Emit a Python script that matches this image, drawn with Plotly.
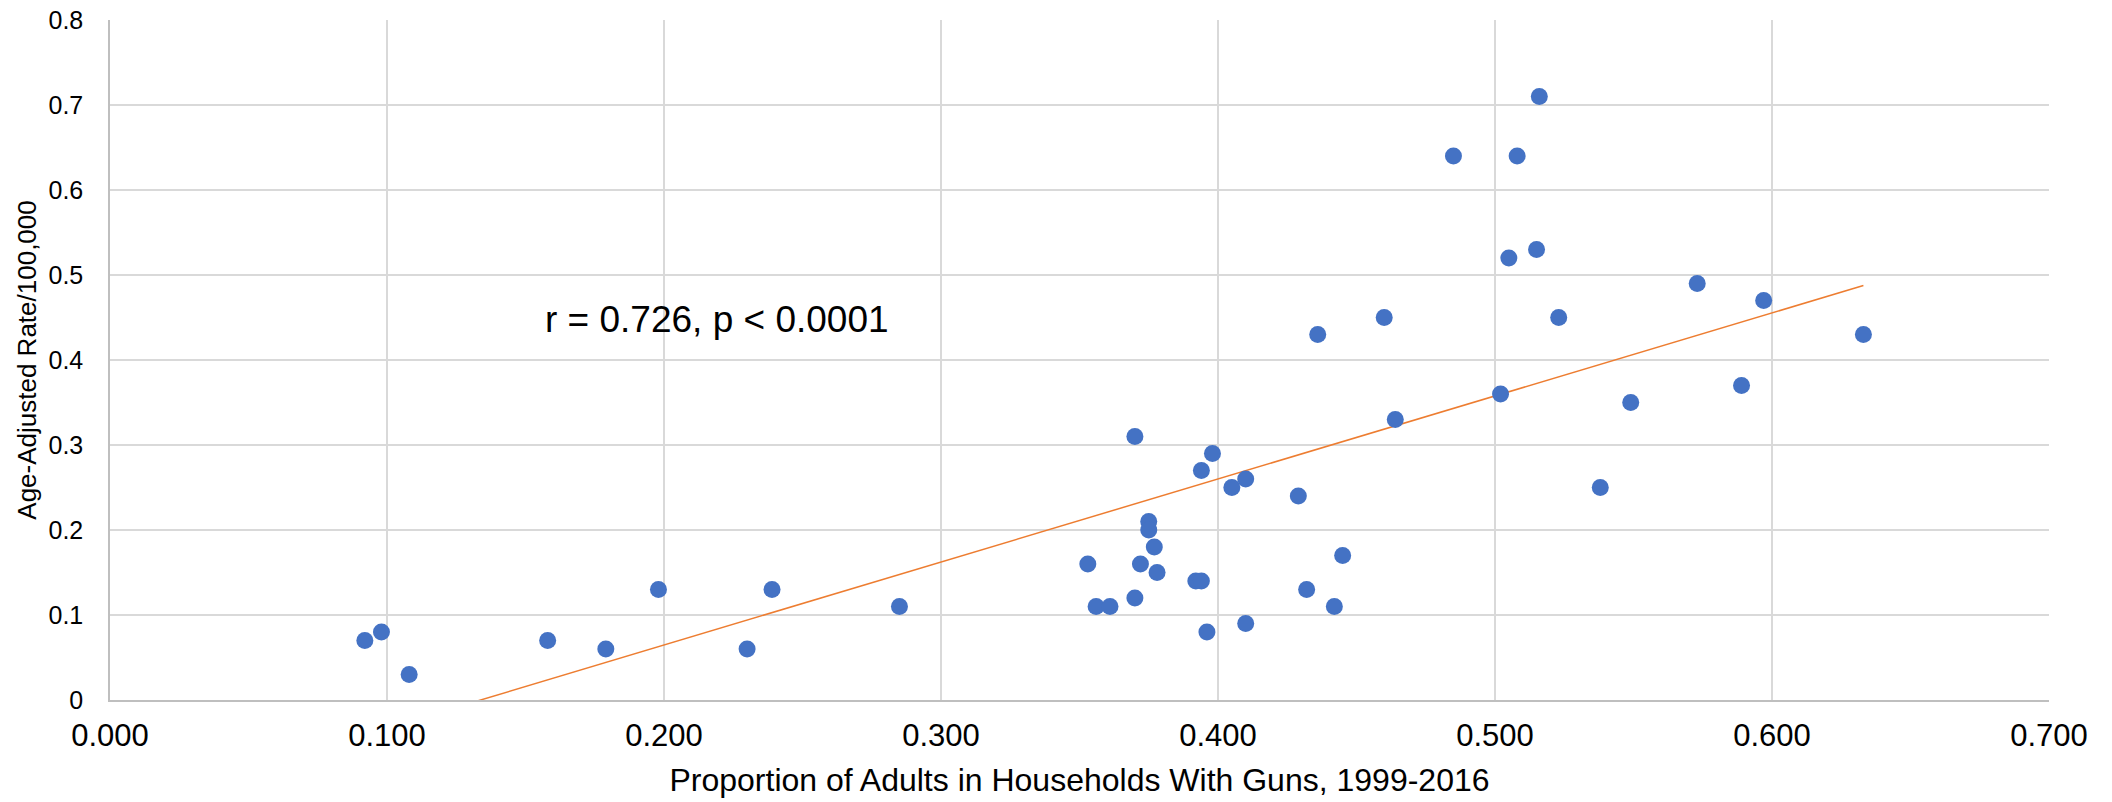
import numpy as np
import plotly.graph_objects as go

# Proportion of adults in households with guns (x) and age-adjusted rate (y)
gun_prop = [0.092, 0.098, 0.108, 0.158, 0.179, 0.198, 0.230, 0.239, 0.285,
            0.353, 0.356, 0.361, 0.370, 0.370, 0.372, 0.375, 0.375, 0.377,
            0.378, 0.392, 0.394, 0.394, 0.396, 0.398, 0.405, 0.410, 0.410,
            0.429, 0.432, 0.436, 0.442, 0.445, 0.460, 0.464, 0.485, 0.502,
            0.505, 0.508, 0.515, 0.516, 0.523, 0.538, 0.549, 0.573, 0.589,
            0.597, 0.633]
rate = [0.07, 0.08, 0.03, 0.07, 0.06, 0.13, 0.06, 0.13, 0.11,
        0.16, 0.11, 0.11, 0.31, 0.12, 0.16, 0.21, 0.20, 0.18,
        0.15, 0.14, 0.14, 0.27, 0.08, 0.29, 0.25, 0.26, 0.09,
        0.24, 0.13, 0.43, 0.11, 0.17, 0.45, 0.33, 0.64, 0.36,
        0.52, 0.64, 0.53, 0.71, 0.45, 0.25, 0.35, 0.49, 0.37,
        0.47, 0.43]

x_ticks = [0.0, 0.1, 0.2, 0.3, 0.4, 0.5, 0.6, 0.7]
y_ticks = [0.0, 0.1, 0.2, 0.3, 0.4, 0.5, 0.6, 0.7, 0.8]
y_tick_labels = ["0", "0.1", "0.2", "0.3", "0.4", "0.5", "0.6", "0.7", "0.8"]
annotation_text = "r = 0.726, p < 0.0001"
x_title = "Proportion of Adults in Households With Guns, 1999-2016"
y_title = "Age-Adjusted Rate/100,000"

slope, intercept = np.polyfit(gun_prop, rate, 1)
trend_x = [min(gun_prop), max(gun_prop)]
trend_y = [slope * v + intercept for v in trend_x]

FONT = "Arial, Liberation Sans, sans-serif"

fig = go.Figure()
fig.add_trace(go.Scatter(
    x=trend_x, y=trend_y, mode="lines",
    line=dict(color="#ED7D31", width=1.5),
    hoverinfo="skip", showlegend=False,
))
fig.add_trace(go.Scatter(
    x=gun_prop, y=rate, mode="markers",
    marker=dict(color="#4472C4", size=17, line=dict(width=0)),
    showlegend=False,
))

fig.add_annotation(
    x=0.219, y=0.448, xref="x", yref="y", text=annotation_text,
    showarrow=False, font=dict(family=FONT, size=37, color="#000000"),
)

fig.update_layout(
    width=2112, height=802,
    margin=dict(l=110, r=63, t=20, b=102),
    paper_bgcolor="white", plot_bgcolor="white",
    font=dict(family=FONT, color="#000000"),
)
fig.update_xaxes(
    range=[0, 0.7], tickvals=x_ticks, tickformat=".3f",
    automargin=False,
    showgrid=True, gridcolor="#D9D9D9", gridwidth=1.5,
    showline=True, linecolor="#BFBFBF", linewidth=1.5, mirror=False,
    zeroline=False,
    ticks="outside", ticklen=7, tickcolor="rgba(0,0,0,0)",
    tickfont=dict(family=FONT, size=31, color="#000000"),
    title=dict(text=x_title, font=dict(family=FONT, size=32, color="#000000"), standoff=17),
)
fig.update_yaxes(
    range=[0, 0.8], tickvals=y_ticks, ticktext=y_tick_labels,
    automargin=False,
    showgrid=True, gridcolor="#D9D9D9", gridwidth=1.5,
    showline=True, linecolor="#BFBFBF", linewidth=1.5,
    zeroline=False,
    ticks="outside", ticklen=20, tickcolor="rgba(0,0,0,0)",
    tickfont=dict(family=FONT, size=25, color="#000000"),
    title=dict(text=y_title, font=dict(family=FONT, size=26, color="#000000"), standoff=4),
)

fig.write_html("out.html", config={"displayModeBar": False},
               post_script="document.body.style.margin='0';")
